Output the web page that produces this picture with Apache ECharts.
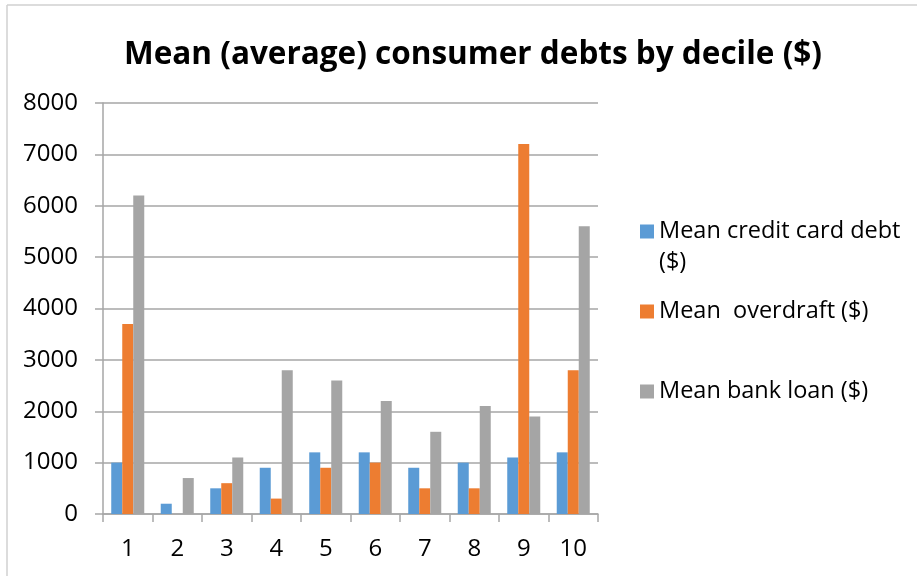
<!DOCTYPE html>
<html>
<head>
<meta charset="utf-8">
<script src="https://cdn.jsdelivr.net/npm/echarts@6/dist/echarts.min.js"></script>
<style>
  html, body { margin: 0; padding: 0; background: #fff; }
  #chart { width: 917px; height: 576px; }
</style>
</head>
<body>
<div id="chart"></div>
<script>
// Deciles on the x axis
const deciles = ['1', '2', '3', '4', '5', '6', '7', '8', '9', '10'];

// Mean debts per decile, in dollars
const creditCardDebt = [1000, 200, 500, 900, 1200, 1200, 900, 1000, 1100, 1200];
const overdraft = [3700, 0, 600, 300, 900, 1000, 500, 500, 7200, 2800];
const bankLoan = [6200, 700, 1100, 2800, 2600, 2200, 1600, 2100, 1900, 5600];

const seriesNames = ['Mean credit card debt ($)', 'Mean  overdraft ($)', 'Mean bank loan ($)'];
const colors = ['#5B9BD5', '#ED7D31', '#A5A5A5'];

const FONT = 'Open Sans';
const axisGray = '#a6a6a6';
const LEGEND_LINE = 31;
const LEGEND_SIZE = 23.5;

const chart = echarts.init(document.getElementById('chart'), null, { renderer: 'canvas' });

// One legend block per series so each entry sits at its own height.
// The first name wraps onto two lines; an empty leading line keeps the
// swatch level with the first line of text.
function legendFor(i, top) {
  return {
    data: [seriesNames[i]],
    left: 640,
    top: top,
    padding: 0,
    itemWidth: 14,
    itemHeight: 14,
    itemGap: 0,
    icon: 'rect',
    selectedMode: false,
    formatter: i === 0 ? '{p| }\n{t|Mean credit card debt}\n{t|($)}' : undefined,
    textStyle: {
      fontFamily: FONT,
      fontSize: LEGEND_SIZE,
      color: '#000',
      lineHeight: LEGEND_LINE,
      rich: {
        p: { fontFamily: FONT, fontSize: LEGEND_SIZE, lineHeight: LEGEND_LINE },
        t: { fontFamily: FONT, fontSize: LEGEND_SIZE, lineHeight: LEGEND_LINE, color: '#000' }
      }
    }
  };
}

chart.setOption({
  animation: false,
  backgroundColor: '#fff',
  color: colors,
  title: {
    text: 'Mean (average) consumer debts by decile ($)',
    left: 468,
    top: 34,
    textAlign: 'center',
    textStyle: { fontFamily: FONT, fontWeight: 'bold', fontSize: 31.5, color: '#000' }
  },
  graphic: [
    { type: 'line', shape: { x1: 7, y1: 5, x2: 917, y2: 5 }, style: { stroke: '#d0d0d0', lineWidth: 1.5 } },
    { type: 'line', shape: { x1: 7, y1: 5, x2: 7, y2: 576 }, style: { stroke: '#d0d0d0', lineWidth: 1.5 } }
  ],
  legend: [legendFor(0, 185), legendFor(1, 296), legendFor(2, 376)],
  grid: { left: 103, right: 319, top: 103, bottom: 62, containLabel: false },
  xAxis: {
    type: 'category',
    data: deciles,
    axisLine: { lineStyle: { color: axisGray, width: 1.5 } },
    axisTick: { show: true, length: 8, lineStyle: { color: axisGray, width: 1.5 } },
    axisLabel: { fontFamily: FONT, fontSize: 24, color: '#000', margin: 23 }
  },
  yAxis: {
    type: 'value',
    min: 0,
    max: 8000,
    interval: 1000,
    axisLine: { show: true, lineStyle: { color: axisGray, width: 1.5 } },
    axisTick: { show: true, length: 8, lineStyle: { color: axisGray, width: 1.5 } },
    axisLabel: {
      fontFamily: FONT, fontSize: 24, color: '#000', margin: 25,
      formatter: (v) => String(v)
    },
    splitLine: { lineStyle: { color: axisGray, width: 1.5 } }
  },
  series: [
    { name: seriesNames[0], type: 'bar', data: creditCardDebt, barGap: '0%', barCategoryGap: '33.3%' },
    { name: seriesNames[1], type: 'bar', data: overdraft, barGap: '0%', barCategoryGap: '33.3%' },
    { name: seriesNames[2], type: 'bar', data: bankLoan, barGap: '0%', barCategoryGap: '33.3%' }
  ]
});
</script>
</body>
</html>
